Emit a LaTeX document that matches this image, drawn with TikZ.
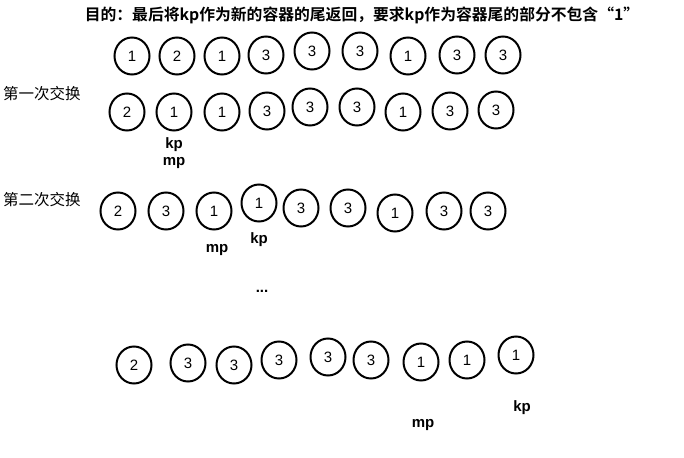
\documentclass[tikz,border=0pt]{standalone}
\usepackage{fontspec}
\setmainfont{Liberation Sans}
\newfontfamily\cjk{Noto Sans CJK SC}
\newfontfamily\cjkb{Noto Sans CJK SC Bold}
\usetikzlibrary{shapes.geometric}
\begin{document}
\begin{tikzpicture}[x=1pt,y=-1pt,
  ball/.style={draw=black,line width=2pt,ellipse,minimum width=35pt,minimum height=37pt,inner sep=0pt,font=\fontsize{15}{15}\selectfont},
  ptr/.style={font=\bfseries\fontsize{15}{15}\selectfont,inner sep=0pt},
  stage/.style={font=\cjk\fontsize{15.5}{16}\selectfont,anchor=west,inner sep=0pt},
  title/.style={font=\cjkb\fontsize{15.8}{16}\selectfont,inner sep=0pt}]
\useasboundingbox[fill=white] (0,0) rectangle (684,457);
\node[title] (title) at (362,15) {目的：最后将kp作为新的容器的尾返回，要求kp作为容器尾的部分不包含“1”};
% row 1
\foreach \n/\x/\y/\d in {1/132/56/1,2/177/56/2,3/222/56/1,4/266/55/3,5/312/51/3,6/360/51/3,7/408/56/1,8/457/55/3,9/503/55/3}
  \node[ball] (a\n) at (\x,\y) {\d};
% row 2
\node[stage] (s1) at (3,94) {第一次交换};
\foreach \n/\x/\y/\d in {1/127/112/2,2/174/112/1,3/222/112/1,4/267/111/3,5/310/107/3,6/357/107/3,7/403/112/1,8/450/111/3,9/496/110/3}
  \node[ball] (b\n) at (\x,\y) {\d};
\node[ptr] (kp1) at (174,145) {kp};
\node[ptr] (mp1) at (174,163) {mp};
% row 3
\node[stage] (s2) at (3,200) {第二次交换};
\foreach \n/\x/\y/\d in {1/118/211/2,2/166/211/3,3/214/211/1,4/259/203/1,5/301/208/3,6/348/208/3,7/395/213/1,8/444/211/3,9/488/211/3}
  \node[ball] (c\n) at (\x,\y) {\d};
\node[ptr] (mp2) at (217,250) {mp};
\node[ptr] (kp2) at (259,240) {kp};
\node[ptr] (dots) at (262,291) {...};
% row 4
\foreach \n/\x/\y/\d in {1/134/365/2,2/188/363/3,3/234/365/3,4/279/360/3,5/328/357/3,6/371/360/3,7/421/362/1,8/467/360/1,9/516/355/1}
  \node[ball] (d\n) at (\x,\y) {\d};
\node[ptr] (kp3) at (522,408) {kp};
\node[ptr] (mp3) at (423,425) {mp};
\end{tikzpicture}
\end{document}
